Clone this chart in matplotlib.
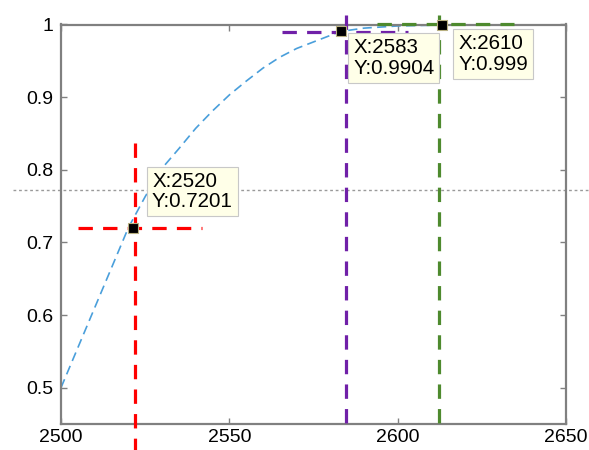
import matplotlib
matplotlib.use("Agg")
import matplotlib.pyplot as plt

# Curve data
curve_x = [2500, 2505, 2510, 2515, 2520, 2525, 2530, 2535, 2540, 2545, 2550, 2555,
           2560, 2565, 2570, 2575, 2580, 2583, 2590, 2600, 2610, 2620, 2630, 2640, 2650]
curve_y = [0.500, 0.555, 0.610, 0.665, 0.7201, 0.763, 0.802, 0.829, 0.857, 0.881, 0.903, 0.922,
           0.940, 0.955, 0.967, 0.976, 0.985, 0.9904, 0.995, 0.998, 0.999, 1.0, 1.0, 1.0, 1.0]

# Data tips
tip_x = [2520, 2583, 2610]
tip_y = [0.7201, 0.9904, 0.999]
tip_labels = ["X:2520\nY:0.7201", "X:2583\nY:0.9904", "X:2610\nY:0.999"]
marker_x = [2521.4, 2583.2, 2613.3]
tip_colors = ["#FF0000", "#7020A8", "#4E8A2E"]

# Crosshair guide lines
vline_x = [2521.9, 2584.7, 2612.3]
vline_y0 = [0.837, 1.013, 1.013]
vline_y1 = [0.41, 0.452, 0.437]
hline_y = [0.72, 0.99, 1.0]
hline_x0 = [2505, 2565.5, 2594]
hline_x1 = [2542, 2603, 2634.5]

threshold_y = 0.772

xticks = [2500, 2550, 2600, 2650]
yticks = [0.5, 0.6, 0.7, 0.8, 0.9, 1.0]
ytick_labels = ["0.5", "0.6", "0.7", "0.8", "0.9", "1"]

plt.rcParams['font.family'] = ['Liberation Sans', 'DejaVu Sans']

fig = plt.figure(figsize=(5.89, 4.50), dpi=100)
ax = fig.add_axes([61/589, 26/450, (566-61)/589, (424-24.5)/450])
ax.set_xlim(2500, 2650)
ax.set_ylim(0.45, 1.0)

# threshold dotted line
ax.plot([2485.7, 2657.4], [threshold_y, threshold_y], color="#9a9a9a", lw=1.0,
        linestyle=(0, (2, 2)), clip_on=False, zorder=1)

# curve
ax.plot(curve_x, curve_y, color="#4A9FDB", lw=1.2, linestyle=(0, (5.5, 3.2)), zorder=2)

# crosshairs
for i in range(3):
    ax.plot([vline_x[i], vline_x[i]], [vline_y0[i], vline_y1[i]], color=tip_colors[i],
            lw=2.3, linestyle=(0, (4.5, 3.2)), clip_on=False, zorder=4)
    ax.plot([hline_x0[i], hline_x1[i]], [hline_y[i], hline_y[i]], color=tip_colors[i],
            lw=2.3, linestyle=(0, (4.5, 3.2)), clip_on=False, zorder=4)

# markers
ax.plot(marker_x, tip_y, linestyle="none", marker="s", ms=7, mfc="black",
        mec="#b8b080", mew=0.8, clip_on=False, zorder=6)

offsets = [(19, 56), (12, -7), (16, -9)]
for i in range(3):
    ax.annotate(tip_labels[i], xy=(marker_x[i], tip_y[i]), xytext=offsets[i],
                textcoords="offset pixels", ha="left", va="top", fontsize=14.8,
                linespacing=1.1, color="black", zorder=7, annotation_clip=False,
                bbox=dict(boxstyle="square,pad=0.25", fc="#FFFFE8", ec="#c8c8c8", lw=0.8))

ax.set_xticks(xticks)
ax.set_yticks(yticks)
ax.set_yticklabels(ytick_labels)
ax.tick_params(direction="in", length=4, width=1, color="#808080", labelsize=14,
               top=True, right=True, labelcolor="black")
ax.tick_params(axis="x", pad=3.5)
ax.tick_params(axis="y", pad=5.5)
for s in ax.spines.values():
    s.set_color("#808080")
    s.set_linewidth(1.6)
    s.set_zorder(3)

fig.savefig("out.png", dpi=100)
